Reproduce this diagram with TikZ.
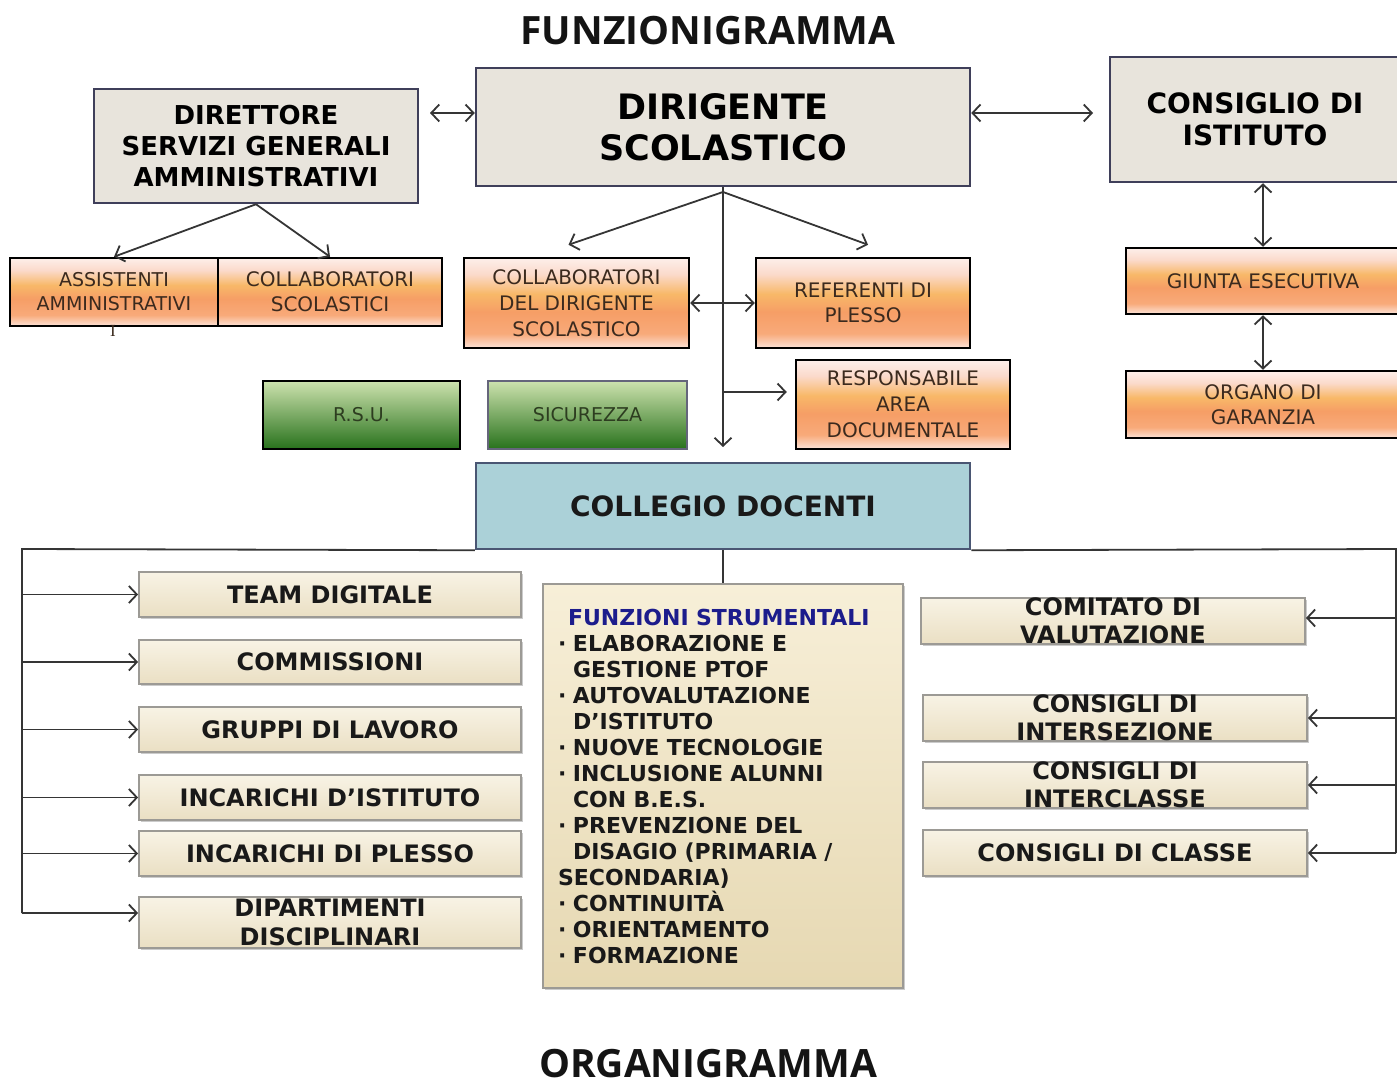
\documentclass[tikz,border=0pt]{standalone}
\usepackage{fontspec}
\setmainfont{DejaVu Sans}
\newfontfamily\titlefont{Open Sans}
\newfontfamily\serifI{Liberation Serif}
\usetikzlibrary{arrows.meta,shadows,calc}
\definecolor{texfill}{HTML}{E8E4DC}
\definecolor{texborder}{HTML}{3F3F5A}
\definecolor{orA}{HTML}{FCE3D8}
\definecolor{orB}{HTML}{F8AA7A}
\definecolor{orC}{HTML}{F69E66}
\definecolor{orD}{HTML}{F8B868}
\definecolor{orE}{HTML}{FBDACB}
\definecolor{orF}{HTML}{FDEFEA}
\definecolor{ortext}{HTML}{3B2A1E}
\definecolor{grtop}{HTML}{CDE2AE}
\definecolor{grbot}{HTML}{28721C}
\definecolor{grtext}{HTML}{2D3D20}
\definecolor{crtop}{HTML}{F8F3E5}
\definecolor{crbot}{HTML}{EADFC3}
\definecolor{crborder}{HTML}{9C9A95}
\definecolor{fstop}{HTML}{F7EFD8}
\definecolor{fsbot}{HTML}{E6D8B2}
\definecolor{fsblue}{HTML}{1C1C8C}
\definecolor{colfill}{HTML}{ABD1D8}
\definecolor{colborder}{HTML}{4A5673}
\definecolor{connc}{HTML}{353535}
\pgfdeclareverticalshading{orangeband}{100bp}{color(0bp)=(orA); color(25bp)=(orA); color(33bp)=(orB); color(45bp)=(orC); color(55bp)=(orD); color(66bp)=(orE); color(75bp)=(orF); color(100bp)=(orF)}
\newcommand\fsb{\makebox[15pt][l]{·}}
\newcommand\fsi{\hspace*{15pt}}
\begin{document}
\begin{tikzpicture}[x=1pt,y=-1pt,
  every node/.style={inner sep=0pt, align=center},
  wh/.style 2 args={minimum width=#1, minimum height=#2},
  texbox/.style={draw=texborder, line width=2.5pt, fill=texfill},
  orbox/.style={draw=black, line width=2.5pt, shading=orangeband, text=ortext, font=\fontsize{20}{25}\selectfont},
  grbox/.style={line width=2.5pt, top color=grtop, bottom color=grbot, text=grtext, font=\fontsize{19}{23}\selectfont},
  crbox/.style={draw=crborder, line width=1.8pt, top color=crtop, bottom color=crbot, drop shadow={shadow xshift=2pt, shadow yshift=-2pt, fill=black!40, opacity=0.5}, font=\bfseries\fontsize{24}{28.5}\selectfont, text=black!90},
  conn/.style={line width=1.8pt, draw=connc},
  arr/.style={conn, -{Straight Barb[length=8pt,width=17pt,line width=1.8pt]}},
  darr/.style={conn, {Straight Barb[length=8pt,width=17pt,line width=1.8pt]}-{Straight Barb[length=8pt,width=17pt,line width=1.8pt]}},
]
\useasboundingbox (0,0) rectangle (1397,1086);
\fill[white] (0,0) rectangle (1397,1086);

% titles
\node[font=\titlefont\bfseries\fontsize{39}{44}\selectfont, text=black!92] (t1) at (708,31) {FUNZIONIGRAMMA};
\node[font=\titlefont\bfseries\fontsize{39}{44}\selectfont, text=black!92] (t2) at (708,1064) {ORGANIGRAMMA};

% top row
\node[texbox, wh={324}{114}, font=\bfseries\fontsize{26}{31}\selectfont] (dsga) at (256,146) {DIRETTORE\\SERVIZI GENERALI\\AMMINISTRATIVI};
\node[texbox, wh={494}{118}, font=\bfseries\fontsize{35}{41}\selectfont] (dir) at (723,127) {DIRIGENTE\\SCOLASTICO};
\node[texbox, wh={290}{125}, font=\bfseries\fontsize{28}{32}\selectfont] (cdi) at (1255,119.5) {CONSIGLIO DI\\ISTITUTO};

% orange boxes
\node[orbox, wh={208}{68}, font=\fontsize{19}{24}\selectfont] (ass) at (114,292) {ASSISTENTI\\AMMINISTRATIVI};
\node[orbox, wh={224}{68}] (coll) at (330,292) {COLLABORATORI\\SCOLASTICI};
\node[font=\serifI\fontsize{17}{17}\selectfont, text=ortext] (strayI) at (113,331) {I};
\node[orbox, wh={225}{90}, font=\fontsize{20}{26}\selectfont] (colldir) at (576.5,303) {COLLABORATORI\\DEL DIRIGENTE\\SCOLASTICO};
\node[orbox, wh={214}{90}] (ref) at (863,303) {REFERENTI DI\\PLESSO};
\node[orbox, wh={214}{89}, font=\fontsize{20}{26}\selectfont] (resp) at (903,404.5) {RESPONSABILE\\AREA\\DOCUMENTALE};
\node[orbox, wh={274}{66}] (giunta) at (1263,281) {GIUNTA ESECUTIVA};
\node[orbox, wh={274}{67}] (organo) at (1263,404.5) {ORGANO DI\\GARANZIA};

% green boxes
\node[grbox, draw=black, wh={197}{68}] (rsu) at (361.5,415) {R.S.U.};
\node[grbox, draw=texborder!80, wh={199}{68}] (sic) at (587.5,415) {SICUREZZA};

% collegio
\node[draw=colborder, line width=2.5pt, fill=colfill, wh={494}{86}, font=\bfseries\fontsize{28}{32}\selectfont, text=black!90] (collegio) at (723,506) {COLLEGIO DOCENTI};

% left boxes
\node[crbox, wh={382}{45}] (team) at (330,594.5) {TEAM DIGITALE};
\node[crbox, wh={382}{44}] (comm) at (330,662) {COMMISSIONI};
\node[crbox, wh={382}{45}] (grup) at (330,729.5) {GRUPPI DI LAVORO};
\node[crbox, wh={382}{45}] (inci) at (330,797.5) {INCARICHI D’ISTITUTO};
\node[crbox, wh={382}{45}] (incp) at (330,853.5) {INCARICHI DI PLESSO};
\node[crbox, wh={382}{51}] (dip) at (330,922.5) {DIPARTIMENTI\\DISCIPLINARI};

% right boxes
\node[crbox, wh={384}{46}] (comit) at (1113,621) {COMITATO DI\\VALUTAZIONE};
\node[crbox, wh={384}{46}] (inters) at (1115,718) {CONSIGLI DI\\INTERSEZIONE};
\node[crbox, wh={384}{46}] (interc) at (1115,785) {CONSIGLI DI\\INTERCLASSE};
\node[crbox, wh={384}{46}] (classe) at (1115,853) {CONSIGLI DI CLASSE};

% funzioni strumentali
\node[draw=crborder, line width=1.8pt, top color=fstop, bottom color=fsbot, drop shadow={shadow xshift=2pt, shadow yshift=-2pt, fill=black!40, opacity=0.5}, wh={360}{404}, text width=330pt, align=left, font=\bfseries\fontsize{22}{26}\selectfont, text=black!90] (fs) at (723,786) {%
\hspace*{10pt}{\color{fsblue}FUNZIONI STRUMENTALI}\\
\fsb ELABORAZIONE E\\
\fsi GESTIONE PTOF\\
\fsb AUTOVALUTAZIONE\\
\fsi D’ISTITUTO\\
\fsb NUOVE TECNOLOGIE\\
\fsb INCLUSIONE ALUNNI\\
\fsi CON B.E.S.\\
\fsb PREVENZIONE DEL\\
\fsi DISAGIO (PRIMARIA /\\
SECONDARIA)\\
\fsb CONTINUITÀ\\
\fsb ORIENTAMENTO\\
\fsb FORMAZIONE};

% connectors top
\coordinate (a1) at (430,113);
\draw[darr] (a1) -- (a1 -| dir.west);
\coordinate (a2) at (1093,113);
\draw[darr] (a2 -| dir.east) -- (a2);
\draw[arr] (dsga.south) -- (ass.north);
\draw[arr] (dsga.south) -- (coll.north);
\coordinate (dhub) at (723,192);
\draw[arr] (dhub) -- ([xshift=-8pt,yshift=12pt]colldir.north);
\draw[arr] (dhub) -- ([xshift=5pt,yshift=12pt]ref.north);
\coordinate (vend) at (723,447);
\draw[arr] (dir.south) -- (vend);
\coordinate (br) at (723,392);
\draw[arr] (br) -- ([xshift=-8pt]resp.west |- br);
\draw[darr] (colldir.east) -- (ref.west);
\draw[darr] (giunta.north |- cdi.south) -- (giunta.north);
\draw[darr] (giunta.south) -- (organo.north);

% bottom bracket
\coordinate (L) at (22,549);
\coordinate (R) at (1396,549);
\coordinate (Lb) at (22,913);
\coordinate (Rb) at (1396,853);
\draw[conn] (Lb) -- (L) -- (collegio.south west);
\draw[conn] (collegio.south east) -- (R) -- (Rb);
\draw[conn] (collegio.south) -- (fs.north);
\draw[arr] (team.west -| L) -- (team.west);
\draw[arr] (comm.west -| L) -- (comm.west);
\draw[arr] (grup.west -| L) -- (grup.west);
\draw[arr] (inci.west -| L) -- (inci.west);
\draw[arr] (incp.west -| L) -- (incp.west);
\draw[arr] (Lb) -- (Lb -| dip.west);
\draw[arr] ([yshift=3pt]comit.east -| R) -- ([yshift=3pt]comit.east);
\draw[arr] (inters.east -| R) -- (inters.east);
\draw[arr] (interc.east -| R) -- (interc.east);
\draw[arr] (Rb) -- (Rb -| classe.east);
\end{tikzpicture}
\end{document}
